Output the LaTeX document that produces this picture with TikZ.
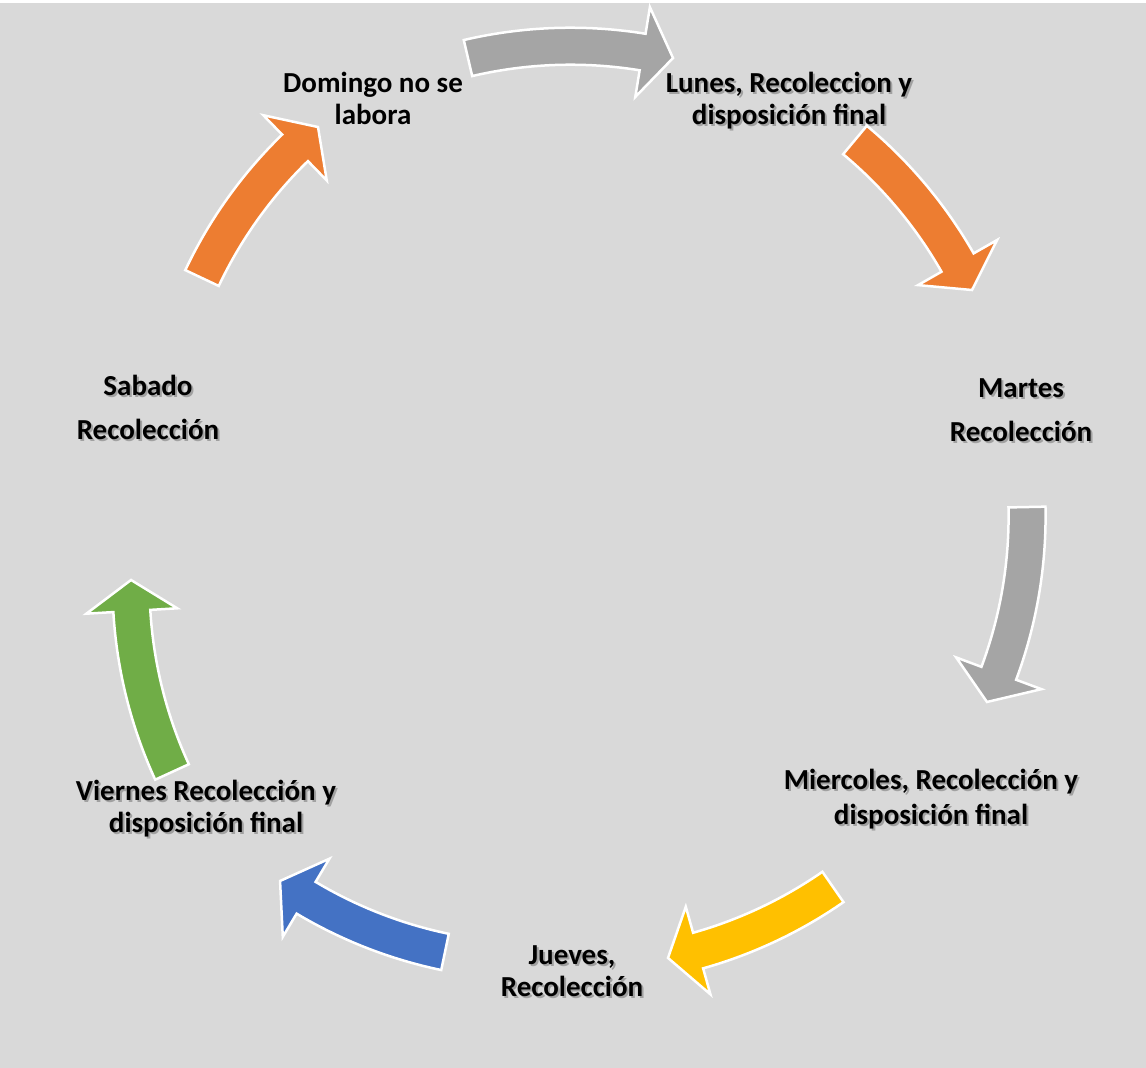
\documentclass[tikz,border=0pt]{standalone}
\usepackage{fontspec}
\setmainfont{Carlito}
\usetikzlibrary{calc}
\definecolor{bgc}{HTML}{D9D9D9}
\definecolor{agray}{HTML}{A5A5A5}
\definecolor{aorange}{HTML}{ED7D31}
\definecolor{ayellow}{HTML}{FFC000}
\definecolor{ablue}{HTML}{4472C4}
\definecolor{agreen}{HTML}{70AD47}
\tikzset{
  lbl/.style={font=\bfseries\fontsize{29}{32}\selectfont, align=center, anchor=base, inner sep=0pt, text=black},
  lblshadow/.style={lbl, text=black!55, opacity=0.55},
  cyc/.style={draw=white, line width=2.5pt, line join=miter}
}
% #1 cx, #2 cy (pixels, y down), #3 R, #4 tail angle, #5 tip angle, #6 colour
\newcommand\cycarrow[6]{%
  \pgfmathsetmacro\ab{#5+3.95}%
  \pgfmathsetmacro\ro{#3+18.5}%
  \pgfmathsetmacro\ri{#3-18.5}%
  \pgfmathsetmacro\ho{#3+45.5}%
  \pgfmathsetmacro\hi{#3-45.5}%
  \coordinate (C) at (#1,-#2);
  \filldraw[cyc, fill=#6]
    ($(C)+(#4:\ro pt)$) arc[start angle=#4, end angle=\ab, radius=\ro pt]
    -- ($(C)+(\ab:\ho pt)$) -- ($(C)+(#5:#3 pt)$) -- ($(C)+(\ab:\hi pt)$)
    -- ($(C)+(\ab:\ri pt)$) arc[start angle=\ab, end angle=#4, radius=\ri pt] -- cycle;
}
\newcommand\daylabel[4]{%
  \node[lblshadow] at (#2+2,-#3-2) {#4};
  \node[lbl] (#1) at (#2,-#3) {#4};
}
\begin{document}
\begin{tikzpicture}[x=1pt,y=1pt]
\useasboundingbox (0,0) rectangle (1146,-1068);
\fill[bgc] (0,0) rectangle (1146,-1068);
\fill[white] (0,0) rectangle (1146,-3);

% arrows
\cycarrow{570.5}{496.2}{450}{103.17}{76.83}{agray}
\cycarrow{566.7}{485.5}{450}{50.16}{25.75}{aorange}
\cycarrow{577.1}{516.3}{450}{1.18}{-24.37}{agray}
\cycarrow{576.2}{517.4}{450}{-55.21}{-78.23}{ayellow}
\cycarrow{536.8}{511.4}{450}{-101.77}{-124.79}{ablue}
\cycarrow{581}{584.3}{450}{204.65}{179.45}{agreen}
\cycarrow{608.8}{470.4}{450}{154.69}{130.26}{aorange}

% labels
\node[lbl] (dom) at (373,-124) {Domingo no se\\labora};
\daylabel{lun}{789}{124}{Lunes, Recoleccion y\\disposición final}
\daylabel{mar}{1021}{441}{Martes\\[12pt]Recolección}
\daylabel{mie}{931}{824}{Miercoles, Recolección y\\[3pt]disposición final}
\daylabel{jue}{572}{996}{Jueves,\\Recolección}
\daylabel{vie}{206}{832}{Viernes Recolección y\\disposición final}
\daylabel{sab}{148}{439}{Sabado\\[12pt]Recolección}
\end{tikzpicture}
\end{document}
